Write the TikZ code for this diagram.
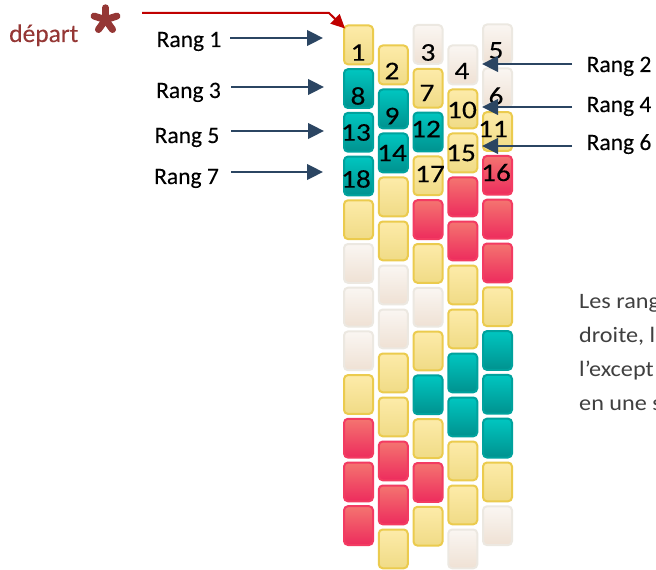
\documentclass[tikz,border=0pt]{standalone}
\usepackage{fontspec}
\setmainfont{Carlito}[FakeBold=0.12]
\newfontfamily\bodyfont[FakeStretch=1.1]{Carlito}
\newfontfamily\numfont[FakeStretch=1.15,FakeBold=0.12]{Carlito}
\usetikzlibrary{arrows.meta}
\definecolor{Ytop}{HTML}{FDEBA9}
\definecolor{Ybot}{HTML}{F0DB86}
\definecolor{Ydraw}{HTML}{EBCB4E}
\definecolor{Ttop}{HTML}{00C6C0}
\definecolor{Tbot}{HTML}{00928F}
\definecolor{Tdraw}{HTML}{00A29D}
\definecolor{Rtop}{HTML}{F47470}
\definecolor{Rbot}{HTML}{ED2C5D}
\definecolor{Rdraw}{HTML}{F33B62}
\definecolor{Ctop}{HTML}{FAF6F2}
\definecolor{Cbot}{HTML}{EFE1D4}
\definecolor{Cdraw}{HTML}{ECE8E1}
\definecolor{arrblue}{HTML}{2B4562}
\definecolor{redline}{HTML}{C00000}
\definecolor{departcol}{HTML}{953735}
\definecolor{bodygray}{HTML}{404040}
\begin{document}
\begin{tikzpicture}[x=1bp,y=-1bp,
  bead/.style={draw, line width=2bp, rounded corners=4bp, inner sep=0pt,
    minimum width=29bp, minimum height=38.8bp, anchor=north west},
  bY/.style={draw=Ydraw, top color=Ytop, bottom color=Ybot},
  bT/.style={draw=Tdraw, top color=Ttop, bottom color=Tbot},
  bR/.style={draw=Rdraw, top color=Rtop, bottom color=Rbot},
  bC/.style={draw=Cdraw, top color=Ctop, bottom color=Cbot},
  num/.style={inner sep=0pt, font=\numfont\fontsize{25.5bp}{28bp}\selectfont, text=black},
  ranglabel/.style={inner sep=0pt, font=\fontsize{23.5bp}{28bp}\selectfont, text=black},
  bluearr/.style={draw=arrblue, line width=2.4bp, -{Triangle[length=16bp,width=15.5bp]}},
  redarr/.style={draw=redline, line width=2bp, -{Triangle[length=14bp,width=13bp]}},
  bodytext/.style={inner sep=0pt, anchor=base west, text=bodygray,
    font=\bodyfont\fontsize{22bp}{25bp}\selectfont},
  starstroke/.style={draw=departcol, line width=7bp, line cap=round}
]
\useasboundingbox (0,0) rectangle (656,570);
\fill[white] (0,0) rectangle (656,570);

% beads
\foreach \i/\x/\ys/\dy/\lst in {
  1/342/23.5/43.7/{Y,T,T,T,Y,C,C,C,Y,R,R,R},
  2/376.75/43.5/44/{Y,T,T,Y,Y,C,C,Y,Y,R,R,Y},
  3/411.5/23/43.8/{C,Y,T,Y,R,Y,C,Y,T,Y,R,Y},
  4/446.25/43.5/44/{C,Y,Y,R,R,Y,Y,T,T,Y,Y,C},
  5/481/22.5/43.8/{C,C,Y,R,R,R,Y,T,T,T,Y,C}}{
  \foreach \c [count=\r from 0] in \lst {
    \node[bead, b\c] (b\i-\r) at ({\x+1},{\ys+1+\r*\dy}) {};
  }
}

% numbers
\node[num] (n1) at (358,52.5) {1};
\node[num] (n2) at (392,71) {2};
\node[num] (n3) at (428,52.5) {3};
\node[num] (n4) at (462,71) {4};
\node[num] (n5) at (496,50.5) {5};
\node[num] (n6) at (496,96) {6};
\node[num] (n7) at (427,93) {7};
\node[num] (n8) at (358,96) {8};
\node[num] (n9) at (392,116) {9};
\node[num] (n10) at (462,110) {10};
\node[num] (n11) at (493,129) {11};
\node[num] (n12) at (426,129) {12};
\node[num] (n13) at (356,132.5) {13};
\node[num] (n14) at (392,153) {14};
\node[num] (n15) at (461,153) {15};
\node[num] (n16) at (496,172.5) {16};
\node[num] (n17) at (430,174) {17};
\node[num] (n18) at (356,179) {18};

% depart
\node[inner sep=0pt, anchor=base west, text=departcol,
  font=\fontsize{25.5bp}{30bp}\selectfont] (depart) at (9,42) {départ};
\coordinate (starc) at (105.5,19.8);
\foreach \a in {-90,-18,54,126,198}{
  \draw[starstroke] (starc) -- ++(\a:12);
}
\fill[departcol] (starc) circle (5.5);

% red arrow
\coordinate (rs) at (142,13);
\coordinate (rk) at (329,13);
\coordinate (re) at (345,28.5);
\draw[redarr] (rs) -- (rk) -- (re);

% left labels
\node[ranglabel, anchor=base] (r1) at (189,47) {Rang 1};
\node[ranglabel, anchor=base] (r3) at (188.5,98) {Rang 3};
\node[ranglabel, anchor=base] (r5) at (187,143) {Rang 5};
\node[ranglabel, anchor=base] (r7) at (186.5,184) {Rang 7};
\coordinate (l1s) at (230,38);  \coordinate (l1e) at (323,38);
\coordinate (l3s) at (231,87);  \coordinate (l3e) at (324,87);
\coordinate (l5s) at (231,131); \coordinate (l5e) at (324,131);
\coordinate (l7s) at (231,172); \coordinate (l7e) at (323,172);
\draw[bluearr] (l1s) -- (l1e);
\draw[bluearr] (l3s) -- (l3e);
\draw[bluearr] (l5s) -- (l5e);
\draw[bluearr] (l7s) -- (l7e);

% right labels
\node[ranglabel, anchor=base west] (r2) at (586.5,72) {Rang 2};
\node[ranglabel, anchor=base west] (r4) at (586.5,112) {Rang 4};
\node[ranglabel, anchor=base west] (r6) at (586.5,150) {Rang 6};
\coordinate (p2s) at (572,64);  \coordinate (p2e) at (482,64);
\coordinate (p4s) at (572,107); \coordinate (p4e) at (482,107);
\coordinate (p6s) at (572,146); \coordinate (p6e) at (482,146);
\draw[bluearr] (p2s) -- (p2e);
\draw[bluearr] (p4s) -- (p4e);
\draw[bluearr] (p6s) -- (p6e);

% body text (cut at the right edge, as in the reference)
\node[bodytext] (t1) at (579,308) {Les rang};
\node[bodytext] (t2) at (579,342) {droite, l};
\node[bodytext] (t3) at (579,376) {l’except};
\node[bodytext] (t4) at (579,410) {en une s};
\end{tikzpicture}
\end{document}
